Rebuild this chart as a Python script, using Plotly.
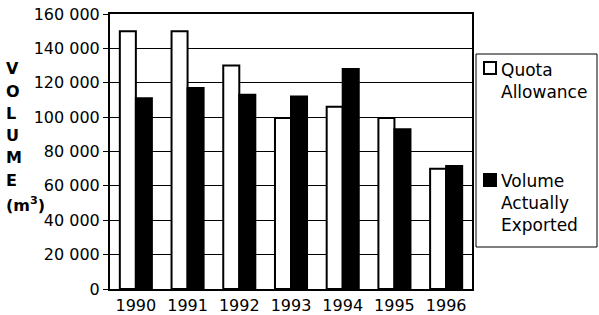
import plotly.graph_objects as go

years = ["1990", "1991", "1992", "1993", "1994", "1995", "1996"]
quota = [150000, 150000, 130000, 99500, 106000, 99500, 70000]
exported = [111000, 117000, 113000, 112000, 128000, 93000, 71500]
ytick_vals = [0, 20000, 40000, 60000, 80000, 100000, 120000, 140000, 160000]
series_names = ["Quota<br>Allowance", "Volume<br>Actually<br>Exported"]
title_letters = ["V", "O", "L", "U", "M", "E", "(m<sup>3</sup>)"]

DEJA = "DejaVu Sans, Arial, sans-serif"

# plot area in pixels: x 110..472, y 14..289
L, R, T, B = 110, 472, 14, 289
def px(x):
    return (x - L) / (R - L)
def py(y):
    return (B - y) / (B - T)

fig = go.Figure()
fig.add_trace(go.Bar(
    x=years, y=quota, name=series_names[0],
    marker=dict(color="white", line=dict(color="black", width=2)),
))
fig.add_trace(go.Bar(
    x=years, y=exported, name=series_names[1],
    marker=dict(color="black", line=dict(color="black", width=2)),
))

fig.update_layout(
    width=599, height=315,
    margin=dict(l=L, r=599 - R, t=T, b=315 - B),
    paper_bgcolor="white", plot_bgcolor="white",
    barmode="group", bargap=0.38, bargroupgap=0,
    separators=". ",
    font=dict(family=DEJA, size=16, color="black"),
    showlegend=False,
)
fig.update_xaxes(
    showline=True, linecolor="black", linewidth=2, mirror=True,
    showgrid=False, ticks="", tickfont=dict(family=DEJA, size=16), automargin=False,
    ticklabelstandoff=1,
)
fig.update_yaxes(
    range=[0, 160000], tickvals=ytick_vals, tickformat=",d",
    showline=True, linecolor="black", linewidth=2, mirror=True,
    showgrid=True, gridcolor="black", gridwidth=1, zeroline=False,
    ticks="outside", ticklen=5, tickcolor="black",
    tickfont=dict(family=DEJA, size=16), automargin=False,
)

# vertical axis title, one letter per line
title_y = [68, 91, 113, 135, 157, 180, 204]
for t, yy in zip(title_letters, title_y):
    fig.add_annotation(
        xref="paper", yref="paper", x=px(4), y=py(yy), xanchor="left", yanchor="middle",
        text="<b>" + t + "</b>", showarrow=False, align="left",
        font=dict(family=DEJA, size=16, color="black"),
    )

# legend box
fig.add_shape(type="rect", xref="paper", yref="paper",
              x0=px(476), x1=px(597), y0=py(247), y1=py(54),
              line=dict(color="black", width=1), fillcolor="white")
sym_fill = ["white", "black"]
sym_top = [62, 174]
text_center = [80.5, 202.5]
for name, fill, st, tc in zip(series_names, sym_fill, sym_top, text_center):
    fig.add_shape(type="rect", xref="paper", yref="paper",
                  x0=px(484), x1=px(496), y0=py(st + 12), y1=py(st),
                  line=dict(color="black", width=2), fillcolor=fill)
    fig.add_annotation(
        xref="paper", yref="paper", x=px(499), y=py(tc), xanchor="left", yanchor="middle",
        text=name, showarrow=False, align="left",
        font=dict(family=DEJA, size=17, color="black"),
    )

fig.write_html("out.html")
